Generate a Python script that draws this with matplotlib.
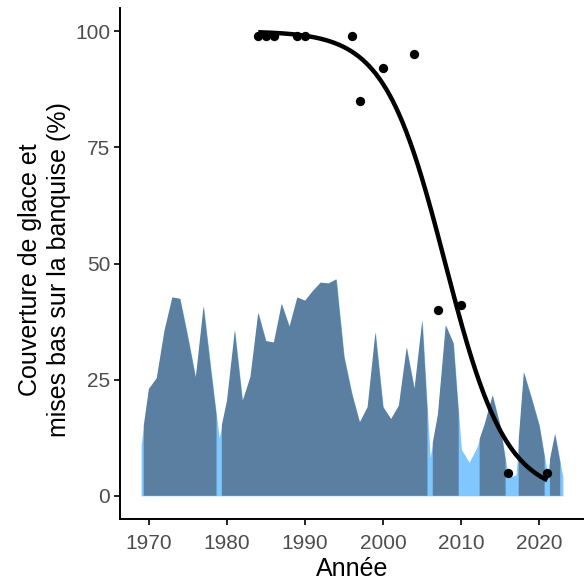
import numpy as np
import matplotlib
matplotlib.use('Agg')
import matplotlib.pyplot as plt

plt.rcParams['font.family'] = ['Liberation Sans', 'DejaVu Sans']

# Yearly cover series (area)
years = list(range(1969, 2024))
cover = [11, 23, 25.3, 35.6, 42.7, 42.4, 34.2, 25.4, 40.8, 26.5,
         12.5, 20.5, 35.6, 20.4, 25.6, 39.4, 33.3, 33.0, 41.3, 36.4,
         42.7, 42.0, 44.1, 45.9, 45.7, 46.6, 30.0, 22.0, 15.8, 19.1,
         35.2, 19.1, 16.5, 19.4, 31.9, 23.0, 37.8, 8.3, 17.5, 36.7,
         32.8, 10.0, 7.2, 10.5, 15.5, 21.6, 15.0, 4.0, 4.5, 26.6,
         21.0, 15.1, 5.0, 13.3, 4.0]
# years shown only in the light layer
missingYears = [1969, 1979, 2006, 2010, 2011, 2012, 2016, 2017, 2021, 2023]

# Pupping on ice observations (points)
obsYears = [1984, 1985, 1986, 1989, 1990, 1996, 1997, 2000, 2004, 2007, 2010, 2016, 2021]
obsPct = [99, 99, 99, 99, 99, 99, 85, 92, 95, 40, 41, 5, 5]

darkCol = '#5B7FA0'
lightCol = '#80C7FF'


def fitLogistic(x, p, nIter=50):
    # binomial GLM (logit link) fitted by IRLS on proportions
    X = np.column_stack([np.ones_like(x), x - x.mean()])
    beta = np.zeros(2)
    for _ in range(nIter):
        eta = X @ beta
        mu = 1 / (1 + np.exp(-eta))
        w = mu * (1 - mu)
        z = eta + (p - mu) / w
        beta = np.linalg.solve(X.T @ (X * w[:, None]), X.T @ (w * z))
    return beta, x.mean()


yr = np.array(years, dtype=float)
cv = np.array(cover, dtype=float)
xs = np.linspace(yr.min(), yr.max(), 5401)
full = np.interp(xs, yr, cv)

# dark layer only around years that have a value of their own
validYears = np.array([y for y in years if y not in missingYears], dtype=float)
distValid = np.min(np.abs(xs[:, None] - validYears[None, :]), axis=1)
showDark = distValid <= 0.67

ox = np.array(obsYears, dtype=float)
op = np.array(obsPct, dtype=float) / 100
beta, xm = fitLogistic(ox, op)
cx = np.linspace(ox.min(), ox.max(), 300)
cy = 100 / (1 + np.exp(-(beta[0] + beta[1] * (cx - xm))))

fig = plt.figure(figsize=(5.84, 5.81), dpi=100)
ax = fig.add_axes([120 / 584, 62 / 581, 464 / 584, 511 / 581])

ax.fill_between(xs, 0, full, color=lightCol, lw=0)
ax.fill_between(xs, 0, full, where=showDark, color=darkCol, lw=0)
ax.plot(cx, cy, color='black', lw=3.2, solid_capstyle='butt')
ax.scatter(ox, op * 100, s=45, color='black', zorder=3, lw=0)

ax.set_xlim(1966.3, 2025.7)
ax.set_ylim(-5, 105)
ax.set_xticks([1970, 1980, 1990, 2000, 2010, 2020])
ax.set_yticks([0, 25, 50, 75, 100])

for s in ['top', 'right']:
    ax.spines[s].set_visible(False)
for s in ['left', 'bottom']:
    ax.spines[s].set_linewidth(1.4)
ax.tick_params(length=4, width=1.2, color='black', labelcolor='#4D4D4D',
               labelsize=15, pad=3)
ax.tick_params(axis='x', pad=7)

ax.set_xlabel('Année', fontsize=18, labelpad=3)
ax.set_ylabel('Couverture de glace et\nmises bas sur la banquise (%)',
              fontsize=18, linespacing=1.3)
ax.yaxis.set_label_coords(-0.105, 0.488)

fig.savefig('out.png', dpi=100)
